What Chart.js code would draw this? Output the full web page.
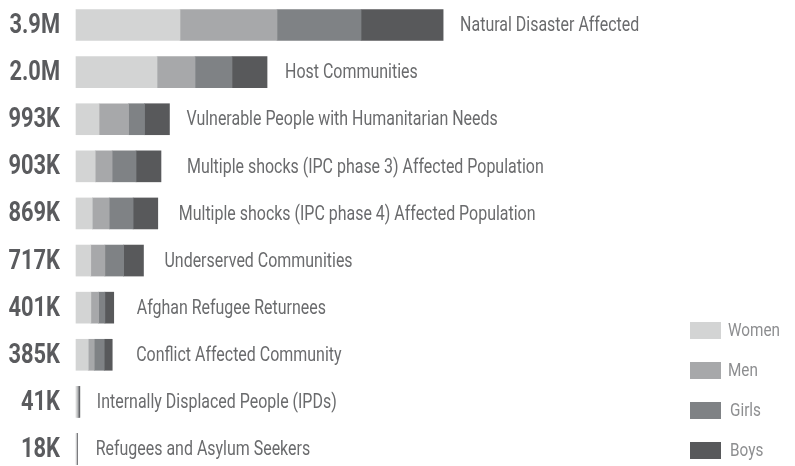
<!DOCTYPE html>
<html>
<head>
<meta charset="utf-8">
<script src="https://cdn.jsdelivr.net/npm/chart.js@4.4.1/dist/chart.umd.min.js"></script>
<style>
  html, body { margin: 0; padding: 0; background: #fff; }
  #wrap { width: 795px; height: 466px; position: relative; }
</style>
</head>
<body>
<div id="wrap"><canvas id="myChart"></canvas></div>
<script>
// data (thousands of people)
const groups = ['Natural Disaster Affected', 'Host Communities', 'Vulnerable People with Humanitarian Needs',
  'Multiple shocks (IPC phase 3) Affected Population', 'Multiple shocks (IPC phase 4) Affected Population',
  'Underserved Communities', 'Afghan Refugee Returnees', 'Conflict Affected Community',
  'Internally Displaced People (IPDs)', 'Refugees and Asylum Seekers'];
const women = [1105, 861, 245, 204, 173, 157, 158, 130, 12, 5];
const men   = [1031, 404, 314, 180, 180, 150, 83, 64, 10, 4];
const girls = [893, 393, 169, 254, 254, 199, 66, 106, 10, 5];
const boys  = [872, 372, 265, 265, 262, 211, 94, 85, 9, 4];
const seriesNames = ['Women', 'Men', 'Girls', 'Boys'];
const seriesColors = ['#d3d4d4', '#a7a8aa', '#7f8285', '#58595b'];

const FONT = "Roboto, 'Liberation Sans', sans-serif";

function totalLabel(i) {
  const t = women[i] + men[i] + girls[i] + boys[i];
  return t >= 1000 ? (t / 1000).toFixed(1) + 'M' : t + 'K';
}

// squeeze text horizontally, the original uses a condensed face
function narrowText(ctx, text, x, y, align, sx) {
  ctx.save();
  ctx.translate(x, y);
  ctx.scale(sx, 1);
  ctx.textAlign = align;
  ctx.fillText(text, 0, 0);
  ctx.restore();
}

    // totals on the left, names after each bar
    const rowLabels = {
        id: 'rowLabels',
        afterDatasetsDraw(chart, args, opts) {
            const { ctx } = chart;
            const last = chart.getDatasetMeta(chart.data.datasets.length - 1);
            const axisRight = chart.scales.y.right;
            ctx.save();
            ctx.textBaseline = 'middle';
            last.data.forEach((bar, i) => {
                ctx.font = 'bold 28px ' + FONT;
                ctx.fillStyle = '#5a5b5e';
                narrowText(ctx, totalLabel(i), axisRight - 16, bar.y + 1, 'right', 0.78);
                ctx.font = '21px ' + FONT;
                ctx.fillStyle = '#6a6b6d';
                narrowText(ctx, chart.data.labels[i], bar.x + 17 + (opts.nudge[i] || 0), bar.y + 1, 'left', 0.76);
            });
            ctx.restore();
        }
    };

    // legend bottom right
    const boxLegend = {
        id: 'boxLegend',
        afterDraw(chart) {
            const { ctx } = chart;
            ctx.save();
            ctx.font = '18px ' + FONT;
            ctx.textBaseline = 'middle';
            chart.data.datasets.forEach((ds, i) => {
                const y = 322 + i * 40;
                ctx.fillStyle = ds.backgroundColor;
                ctx.fillRect(690, y, 31, 17);
                ctx.fillStyle = '#8d8e90';
                narrowText(ctx, ds.label, 728 + (i >= 2 ? 2 : 0), y + 9, 'left', 0.85);
            });
            ctx.restore();
        }
    };

    const seriesData = [women, men, girls, boys];

    const config = {
        type: 'bar',
        data: {
            labels: groups,
            datasets: seriesNames.map((name, k) => ({
                label: name,
                data: seriesData[k],
                backgroundColor: seriesColors[k],
                borderWidth: 0,
                barThickness: 31,
                clip: false
            }))
        },
        options: {
            indexAxis: 'y',
            responsive: true,
            maintainAspectRatio: false,
            animation: false,
            layout: { padding: { top: 25, bottom: 17, left: 0, right: 0 } },
            scales: {
                x: { stacked: true, min: 0, max: 7640, display: false },
                y: {
                    stacked: true,
                    offset: false,
                    grid: { display: false },
                    border: { display: false },
                    ticks: { display: false },
                    afterFit(scale) { scale.width = 76; }
                }
            },
            plugins: {
                legend: { display: false },
                tooltip: { enabled: false },
                rowLabels: { nudge: [0, 1, 0, 9, 4, 4, 6, 7, 0, 1] }
            }
        },
        plugins: [rowLabels, boxLegend]
    };

    const myChart = new Chart(document.getElementById('myChart'), config);
</script>
</body>
</html>
